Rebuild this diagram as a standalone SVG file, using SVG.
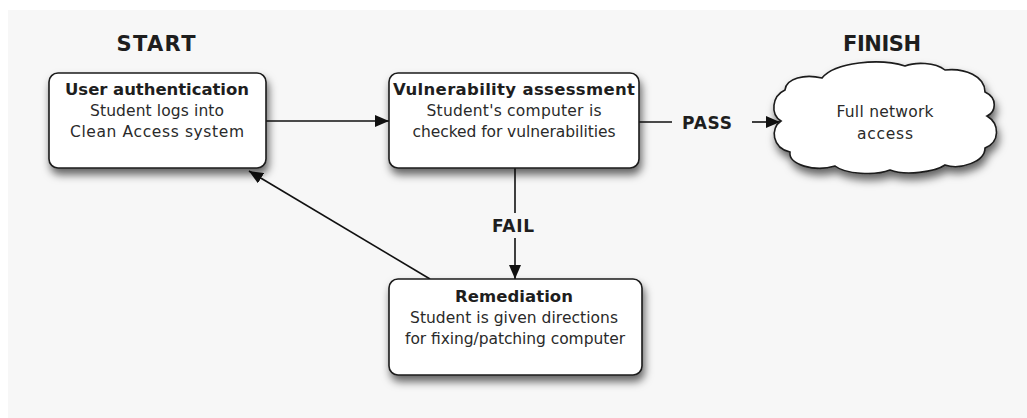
<svg xmlns="http://www.w3.org/2000/svg" width="1027" height="418" viewBox="0 0 1027 418">
<defs>
  <filter id="shadow" x="-20%" y="-20%" width="140%" height="160%">
    <feDropShadow dx="2" dy="6" stdDeviation="4" flood-color="#000" flood-opacity="0.6"/>
  </filter>
  <marker id="arrow" viewBox="0 0 14 12" refX="14" refY="6" markerWidth="14" markerHeight="12" markerUnits="userSpaceOnUse" orient="auto">
    <path d="M0,0 L14,6 L0,12 Z" fill="#111"/>
  </marker>
  <style>
    .node { fill: #ffffff; stroke: #1a1a1a; stroke-width: 1.6; filter: url(#shadow); }
    .title { font-family: "DejaVu Sans", "Liberation Sans", sans-serif; font-weight: bold; font-size: 16.5px; fill: #1e1e1e; text-anchor: middle; }
    .body { font-family: "DejaVu Sans", "Liberation Sans", sans-serif; font-size: 15.5px; fill: #2a2a2a; text-anchor: middle; }
    .head { font-family: "DejaVu Sans", "Liberation Sans", sans-serif; font-weight: bold; font-size: 21px; fill: #1e1e1e; text-anchor: middle; }
    .label { font-family: "DejaVu Sans", "Liberation Sans", sans-serif; font-weight: bold; font-size: 17px; fill: #1e1e1e; text-anchor: middle; }
    .conn { stroke: #111; stroke-width: 1.6; fill: none; }
  </style>
</defs>
<rect x="0" y="0" width="1027" height="418" fill="#ffffff"/>
<rect x="8" y="10" width="1019" height="408" fill="#f7f7f7"/>

<text class="head" x="156" y="51" textLength="79">START</text>
<text class="head" x="882" y="51" textLength="78">FINISH</text>

<g id="connectors">
  <line class="conn" x1="266" y1="121" x2="389" y2="121" marker-end="url(#arrow)"/>
  <line class="conn" x1="639" y1="122" x2="672" y2="122"/>
  <line class="conn" x1="752" y1="122" x2="780" y2="122" marker-end="url(#arrow)"/>
  <line class="conn" x1="515" y1="168" x2="515" y2="213"/>
  <line class="conn" x1="515" y1="238" x2="515" y2="279" marker-end="url(#arrow)"/>
  <line class="conn" x1="430" y1="279" x2="249" y2="171" marker-end="url(#arrow)"/>
  <text class="label" x="707" y="129" textLength="50">PASS</text>
  <text class="label" x="513" y="232" textLength="42">FAIL</text>
</g>

<g id="user-authentication">
  <rect class="node" x="49" y="73" width="217" height="95" rx="9"/>
  <text class="title" x="157" y="95" textLength="184">User authentication</text>
  <text class="body" x="157" y="116" textLength="134">Student logs into</text>
  <text class="body" x="157" y="137" textLength="174">Clean Access system</text>
</g>

<g id="vulnerability-assessment">
  <rect class="node" x="389" y="73" width="250" height="95" rx="9"/>
  <text class="title" x="514" y="95" textLength="242">Vulnerability assessment</text>
  <text class="body" x="514" y="116" textLength="175">Student's computer is</text>
  <text class="body" x="514" y="137" textLength="203">checked for vulnerabilities</text>
</g>

<g id="remediation">
  <rect class="node" x="389" y="279" width="253" height="96" rx="9"/>
  <text class="title" x="514" y="302" textLength="118">Remediation</text>
  <text class="body" x="514" y="323" textLength="208">Student is given directions</text>
  <text class="body" x="515" y="344" textLength="220">for fixing/patching computer</text>
</g>

<g id="full-network-access">
  <path class="node" d="M 781,121 C 770,114 772,96 785,90 C 786,78 805,74 822,78 C 835,62 880,58 905,66 C 915,62 935,62 945,70 C 965,68 985,76 985,92 C 998,98 996,112 987,116 C 1000,124 1000,142 985,148 C 985,162 960,170 945,165 C 935,172 905,176 890,170 C 875,176 845,174 835,166 C 815,172 788,165 790,152 C 772,148 770,128 781,121 Z"/>
  <text class="body" x="885" y="117" font-size="14.5" textLength="97">Full network</text>
  <text class="body" x="885" y="139" font-size="14.5" textLength="56">access</text>
</g>
</svg>
